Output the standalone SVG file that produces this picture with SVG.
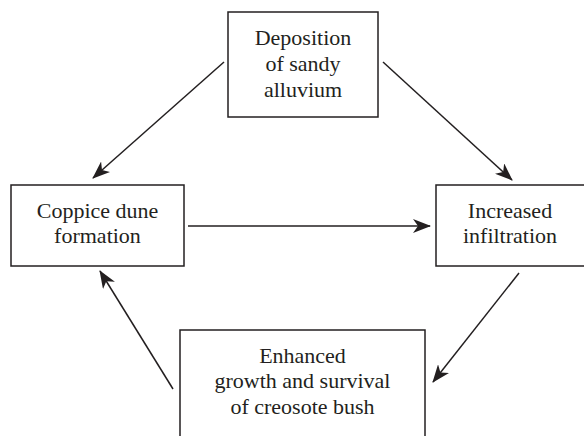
<svg xmlns="http://www.w3.org/2000/svg" width="584" height="436" viewBox="0 0 584 436">
  <style>
    .box { fill: #ffffff; stroke: #231f20; stroke-width: 1.5; }
    .label { font-family: 'Liberation Serif', 'Times New Roman', 'DejaVu Serif', serif; font-size: 22px; fill: #231f20; text-anchor: middle; }
    .edge { stroke: #231f20; stroke-width: 1.5; fill: none; marker-end: url(#arrow); }
  </style>
  <defs>
    <marker id="arrow" viewBox="0 0 18 14" refX="17" refY="7" markerWidth="18" markerHeight="14" markerUnits="userSpaceOnUse" orient="auto">
      <path d="M0,0 L18,7 L0,14 L5,7 z" fill="#231f20"/>
    </marker>
  </defs>
  <rect width="584" height="436" fill="#ffffff"/>

  <g id="deposition">
    <rect class="box" x="228" y="12" width="150" height="105"/>
    <text class="label" x="303" y="45">Deposition</text>
    <text class="label" x="303" y="71">of sandy</text>
    <text class="label" x="303" y="97">alluvium</text>
  </g>

  <g id="coppice">
    <rect class="box" x="11" y="185" width="173" height="81"/>
    <text class="label" x="97.5" y="218">Coppice dune</text>
    <text class="label" x="97.5" y="243">formation</text>
  </g>

  <g id="infiltration">
    <rect class="box" x="436" y="185" width="150" height="81"/>
    <text class="label" x="510" y="218">Increased</text>
    <text class="label" x="510" y="243">infiltration</text>
  </g>

  <g id="creosote">
    <rect class="box" x="180" y="330" width="245" height="110"/>
    <text class="label" x="302.5" y="363">Enhanced</text>
    <text class="label" x="302.5" y="388">growth and survival</text>
    <text class="label" x="302.5" y="414">of creosote bush</text>
  </g>

  <g id="connectors">
    <line class="edge" x1="224" y1="62" x2="93" y2="178"/>
    <line class="edge" x1="383" y1="62" x2="512" y2="180"/>
    <line class="edge" x1="188" y1="226" x2="430" y2="226"/>
    <line class="edge" x1="519" y1="273" x2="433" y2="382"/>
    <line class="edge" x1="173" y1="389" x2="100" y2="271"/>
  </g>
</svg>
